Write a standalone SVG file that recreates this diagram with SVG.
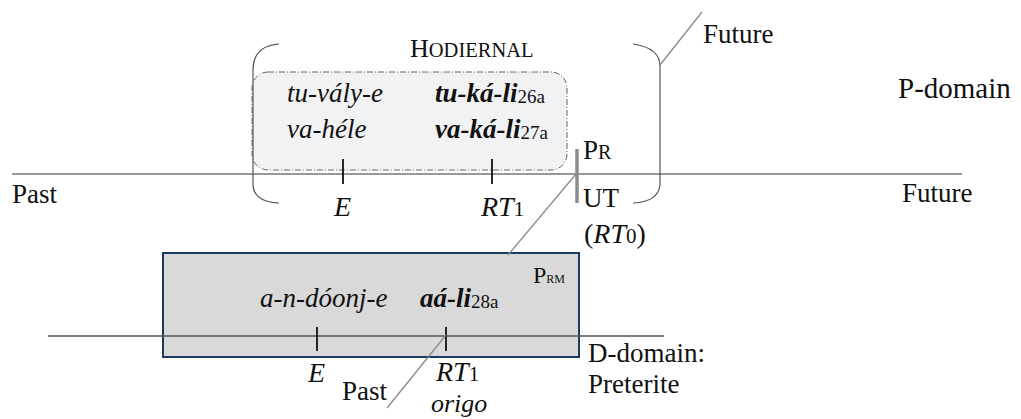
<svg xmlns="http://www.w3.org/2000/svg" width="1021" height="419" viewBox="0 0 1021 419">
<style>
text{font-family:"Liberation Serif","Times New Roman",serif;fill:#111}
.r{font-size:27px}
.i{font-size:27px;font-style:italic}
.bi{font-size:27px;font-style:italic;font-weight:bold}
.sub{font-size:19px;font-style:normal;font-weight:normal}
.m{font-size:28px;font-style:italic}
.axis{stroke:#333;stroke-width:1.2;fill:none}
.tick{stroke:#111;stroke-width:1.8}
.brk{stroke:#555;stroke-width:1.2;fill:none}
.conn{stroke:#8a8a8a;stroke-width:1.3;fill:none}
</style>
<rect width="1021" height="419" fill="#fff"/>
<g id="p-domain-axis">
<line class="axis" x1="12" y1="174" x2="962" y2="174"/>
<text class="r" x="12" y="203">Past</text>
<text class="r" x="902" y="202">Future</text>
<text class="r" x="898" y="98" style="font-size:29px">P-domain</text>
</g>
<g id="hodiernal-box">
<rect x="252" y="72" width="315" height="98" rx="16" fill="#f1f2f4" stroke="#666" stroke-width="1" stroke-dasharray="6,2,1,2"/>
<text class="i" x="287" y="102">tu-vály-e</text>
<text class="i" x="287" y="138">va-héle</text>
<text class="bi" x="435" y="102">tu-ká-li<tspan class="sub" dy="1">26a</tspan></text>
<text class="bi" x="435" y="138">va-ká-li<tspan class="sub" dy="1">27a</tspan></text>
</g>
<g id="hodiernal-bracket">
<path class="brk" d="M279 44 Q253 46 253 70 L253 185 Q254 202 279 203"/>
<path class="brk" d="M633 44 Q660 48 660 66 L660 185 Q658 202 633 203"/>
<text x="410" y="57" style="font-size:26px">H<tspan style="font-size:20.5px">ODIERNAL</tspan></text>
<text class="r" x="703" y="43">Future</text>
</g>
<g id="top-ticks">
<line class="tick" x1="343" y1="159" x2="343" y2="184"/>
<line class="tick" x1="492" y1="159" x2="492" y2="184"/>
<text class="m" x="334" y="216">E</text>
<text class="m" x="481" y="216">RT<tspan style="font-style:normal;font-size:21px">1</tspan></text>
</g>
<g id="pr-point">
<line x1="577" y1="149" x2="577" y2="203" stroke="#8c8c8c" stroke-width="3.5"/>
<text x="583" y="159" style="font-size:27px">P<tspan style="font-size:20px">R</tspan></text>
<text class="r" x="583" y="207">UT</text>
<text x="584" y="243" style="font-size:28px">(<tspan font-style="italic">RT</tspan><tspan style="font-size:21px">0</tspan>)</text>
</g>
<g id="prm-box">
<rect x="163" y="253" width="416" height="104" fill="#d9d9d9" stroke="#1f3864" stroke-width="2"/>
<text x="533" y="283" style="font-size:24px">P<tspan style="font-size:12px">RM</tspan></text>
<text class="i" x="260" y="307">a-n-dóonj-e</text>
<text class="bi" x="420" y="307">aá-li<tspan class="sub" dy="1">28a</tspan></text>
</g>
<g id="d-domain-axis">
<line x1="48" y1="336" x2="664" y2="336" stroke="#555" stroke-width="1.3"/>
<line class="tick" x1="317" y1="327" x2="317" y2="351"/>
<line class="tick" x1="446" y1="327" x2="446" y2="351"/>
<text class="m" x="308" y="382">E</text>
<text class="m" x="436" y="381">RT<tspan style="font-style:normal;font-size:21px">1</tspan></text>
<text class="r" x="342" y="400">Past</text>
<text class="m" x="431" y="412" style="font-size:26px">origo</text>
<text class="r" x="588" y="362">D-domain:</text>
<text class="r" x="588" y="393">Preterite</text>
</g>
<g id="connectors">
<line class="conn" x1="660" y1="65" x2="702" y2="12"/>
<line class="conn" x1="508" y1="255" x2="576" y2="174"/>
<line class="conn" x1="387" y1="408" x2="446" y2="335"/>
</g>
</svg>
